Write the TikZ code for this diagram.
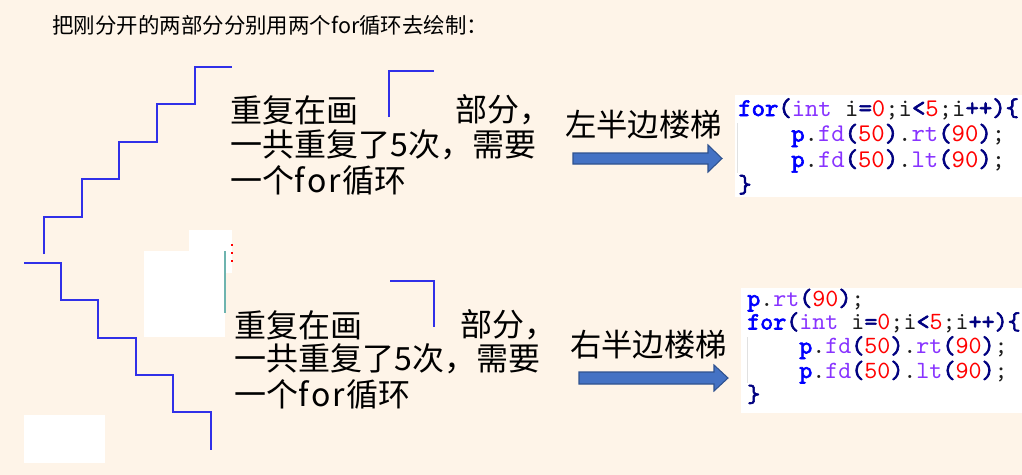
\documentclass[tikz,border=0pt]{standalone}
\usepackage{fontspec}
\setmainfont{Liberation Sans}
\newfontfamily\cjk{Noto Sans CJK SC}
\newfontfamily\codefont{lmmono10-regular.otf}[BoldFont=lmmono10-regular.otf, BoldFeatures={FakeBold=2.5}]
\definecolor{bg}{RGB}{254,244,232}
\definecolor{stair}{RGB}{48,48,232}
\definecolor{arrowfill}{RGB}{68,114,196}
\definecolor{arrowdraw}{RGB}{47,82,143}
\definecolor{kwblue}{RGB}{0,0,255}
\definecolor{opnavy}{RGB}{0,0,128}
\definecolor{typurple}{RGB}{136,51,255}
\definecolor{numred}{RGB}{255,0,0}
\definecolor{codeblack}{RGB}{30,30,30}
\definecolor{guide}{RGB}{225,225,225}
\definecolor{teal}{RGB}{110,180,175}
\newcommand{\kw}[1]{\textcolor{kwblue}{\bfseries #1}}
\newcommand{\op}[1]{\textcolor{opnavy}{\bfseries #1}}
\newcommand{\ty}[1]{\textcolor{typurple}{#1}}
\newcommand{\nm}[1]{\textcolor{numred}{#1}}
\newcommand{\wfor}{f\kern1.8pt o\kern1.8pt r\kern1pt}
\begin{document}
\begin{tikzpicture}[x=0.75pt,y=-0.75pt,
  stairline/.style={draw=stair, line width=1.4pt},
  txt/.style={anchor=west, inner sep=0, font=\cjk\fontsize{24}{28}\selectfont},
  labeltxt/.style={anchor=west, inner sep=0, font=\cjk\fontsize{23.5}{28}\selectfont},
  codeA/.style={anchor=base west, inner sep=0, text=codeblack, font=\codefont\fontsize{19.1}{22}\selectfont},
  codeB/.style={anchor=base west, inner sep=0, text=codeblack, font=\codefont\fontsize{18.6}{22}\selectfont},
  blockarrow/.style={fill=arrowfill, draw=arrowdraw, line width=0.8pt}]
\useasboundingbox[fill=bg] (0,0) rectangle (1022,475);

% title
\node[anchor=west, inner sep=0, font=\cjk\fontsize{16.1}{18}\selectfont] (title) at (52,25) {把刚分开的两部分分别用两个for循环去绘制：};

% white patches
\fill[white] (189,230) rectangle (232,273);
\fill[white] (144,251) rectangle (225,337);
\fill[white] (24,415) rectangle (105,463);
\draw[teal, line width=0.8pt] (225,251) -- (225,313);
\draw[red, line width=0.8pt, dash pattern=on 1.5pt off 4.5pt] (232,244) -- (232,263);

% upper staircase
\draw[stairline] (44,254) -- (44,217) -- (82,217) -- (82,179) -- (119,179) -- (119,142)
  -- (157,142) -- (157,104) -- (195,104) -- (195,67) -- (232,67);
% lower staircase
\draw[stairline] (24,263) -- (61,263) -- (61,300) -- (98,300) -- (98,338) -- (136,338)
  -- (136,375) -- (173,375) -- (173,412) -- (211,412) -- (211,450);

% upper text
\node[txt] (u1a) at (230,110) {重复在画};
\draw[stairline] (389,117) -- (389,71) -- (434,71);
\node[txt] (u1b) at (455,110) {部分，};
\node[txt] (u2) at (230,145) {一共重复了5次，需要};
\node[txt] (u3) at (230,180) {一个\wfor 循环};

% lower text
\node[txt] (l1a) at (234,325) {重复在画};
\draw[stairline] (390,281) -- (434,281) -- (434,327);
\node[txt] (l1b) at (460,325) {部分，};
\node[txt] (l2) at (234,359) {一共重复了5次，需要};
\node[txt] (l3) at (234,394) {一个\wfor 循环};

% arrows and labels
\node[labeltxt] (lbA) at (565,125) {左半边楼梯};
\draw[blockarrow] (573,153) -- (708,153) -- (708,145) -- (722,158.5) -- (708,172) -- (708,164) -- (573,164) -- cycle;
\node[labeltxt] (lbB) at (570,345) {右半边楼梯};
\draw[blockarrow] (579,372) -- (714,372) -- (714,365) -- (728,378) -- (714,391) -- (714,384) -- (579,384) -- cycle;

% upper code box
\fill[white] (735,95) rectangle (1022,197);
\draw[guide, line width=0.6pt] (737,123) -- (737,173);
\node[codeA] (ca1) at (738,116) {\kw{for}\op{(}\ty{int} i\op{=}\nm{0};i\op{<}\nm{5};i\op{++)\{}};
\node[codeA] (ca2) at (791,141.5) {\kw{p}.\ty{fd}\op{(}\nm{50}\op{)}.\ty{rt}\op{(}\nm{90}\op{)};};
\node[codeA] (ca3) at (791,167) {\kw{p}.\ty{fd}\op{(}\nm{50}\op{)}.\ty{lt}\op{(}\nm{90}\op{)};};
\node[codeA] (ca4) at (738,192.5) {\op{\}}};

% lower code box
\fill[white] (741,288) rectangle (1022,413);
\draw[guide, line width=0.6pt] (747,337) -- (747,383);
\node[codeB] (cb1) at (747,306) {\kw{p}.\ty{rt}\op{(}\nm{90}\op{)};};
\node[codeB] (cb2) at (747,329.5) {\kw{for}\op{(}\ty{int} i\op{=}\nm{0};i\op{<}\nm{5};i\op{++)\{}};
\node[codeB] (cb3) at (799,353.5) {\kw{p}.\ty{fd}\op{(}\nm{50}\op{)}.\ty{rt}\op{(}\nm{90}\op{)};};
\node[codeB] (cb4) at (799,378) {\kw{p}.\ty{fd}\op{(}\nm{50}\op{)}.\ty{lt}\op{(}\nm{90}\op{)};};
\node[codeB] (cb5) at (747,402) {\op{\}}};
\end{tikzpicture}
\end{document}
